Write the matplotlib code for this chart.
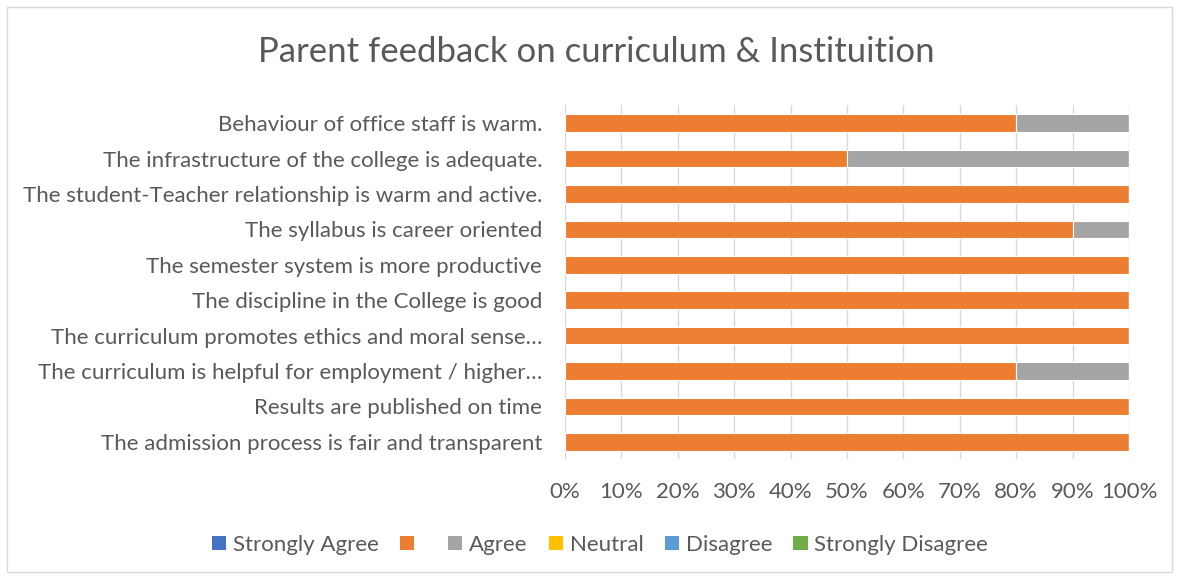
import matplotlib.pyplot as plt
from matplotlib.patches import Rectangle, Patch
from matplotlib.ticker import PercentFormatter

# statements, bottom row first
statements = [
    "The admission process is fair and transparent",
    "Results are published on time",
    "The curriculum is helpful for employment / higher…",
    "The curriculum promotes ethics and moral sense…",
    "The discipline in the College is good",
    "The semester system is more productive",
    "The syllabus is career oriented",
    "The student-Teacher relationship is warm and active.",
    "The infrastructure of the college is adequate.",
    "Behaviour of office staff is warm.",
]

series_names = ["Strongly Agree", " ", "Agree", "Neutral", "Disagree", "Strongly Disagree"]
strongly_agree = [0, 0, 0, 0, 0, 0, 0, 0, 0, 0]
unnamed = [100, 100, 80, 100, 100, 100, 90, 100, 50, 80]
agree = [0, 0, 20, 0, 0, 0, 10, 0, 50, 20]
neutral = [0, 0, 0, 0, 0, 0, 0, 0, 0, 0]
disagree = [0, 0, 0, 0, 0, 0, 0, 0, 0, 0]
strongly_disagree = [0, 0, 0, 0, 0, 0, 0, 0, 0, 0]

colors = ["#4472C4", "#ED7D31", "#A5A5A5", "#FFC000", "#5B9BD5", "#70AD47"]
text_color = "#595959"

plt.rcParams['font.family'] = ['Lato', 'DejaVu Sans']

fig = plt.figure(figsize=(11.79, 5.79), dpi=100)
ax = fig.add_axes([0.4792, 0.2064, 0.4784, 0.6114])

all_series = [strongly_agree, unnamed, agree, neutral, disagree, strongly_disagree]
ypos = range(len(statements))
left = [0] * len(statements)
for vals, color in zip(all_series, colors):
    total = [sum(s[i] for s in all_series) for i in range(len(statements))]
    shares = [v / t * 100 if t else 0 for v, t in zip(vals, total)]
    ax.barh(ypos, shares, left=left, height=0.5, color=color,
            edgecolor="white", linewidth=0.8, zorder=3)
    left = [l + s for l, s in zip(left, shares)]

ax.set_xlim(0, 100)
ax.set_ylim(-0.5, len(statements) - 0.5)
ax.set_xticks(range(0, 101, 10))
ax.xaxis.set_major_formatter(PercentFormatter(decimals=0))
ax.set_yticks(list(ypos))
ax.set_yticklabels(statements)
ax.tick_params(axis='both', length=0, labelsize=16, colors=text_color)
ax.tick_params(axis='y', pad=16.5)
ax.tick_params(axis='x', pad=16)
ax.grid(axis='x', color="#D9D9D9", linewidth=1, zorder=0)
for side in ax.spines.values():
    side.set_visible(False)

fig.text(0.5055, 0.91, "Parent feedback on curriculum & Instituition",
         ha='center', va='center', fontsize=25, color=text_color)

handles = [Patch(facecolor=c) for c in colors]
fig.legend(handles, series_names, loc='center', bbox_to_anchor=(0.509, 0.059),
           ncol=6, frameon=False, fontsize=16, labelcolor=text_color,
           handlelength=0.65, handleheight=0.65, handletextpad=0.3,
           columnspacing=0.95)

fig.patches.append(Rectangle((7 / 1179, 7 / 579), 1 - 14 / 1179, 1 - 14 / 579,
                             transform=fig.transFigure, fill=False,
                             edgecolor="#D9D9D9", linewidth=1))

fig.savefig("out.png", dpi=100)
